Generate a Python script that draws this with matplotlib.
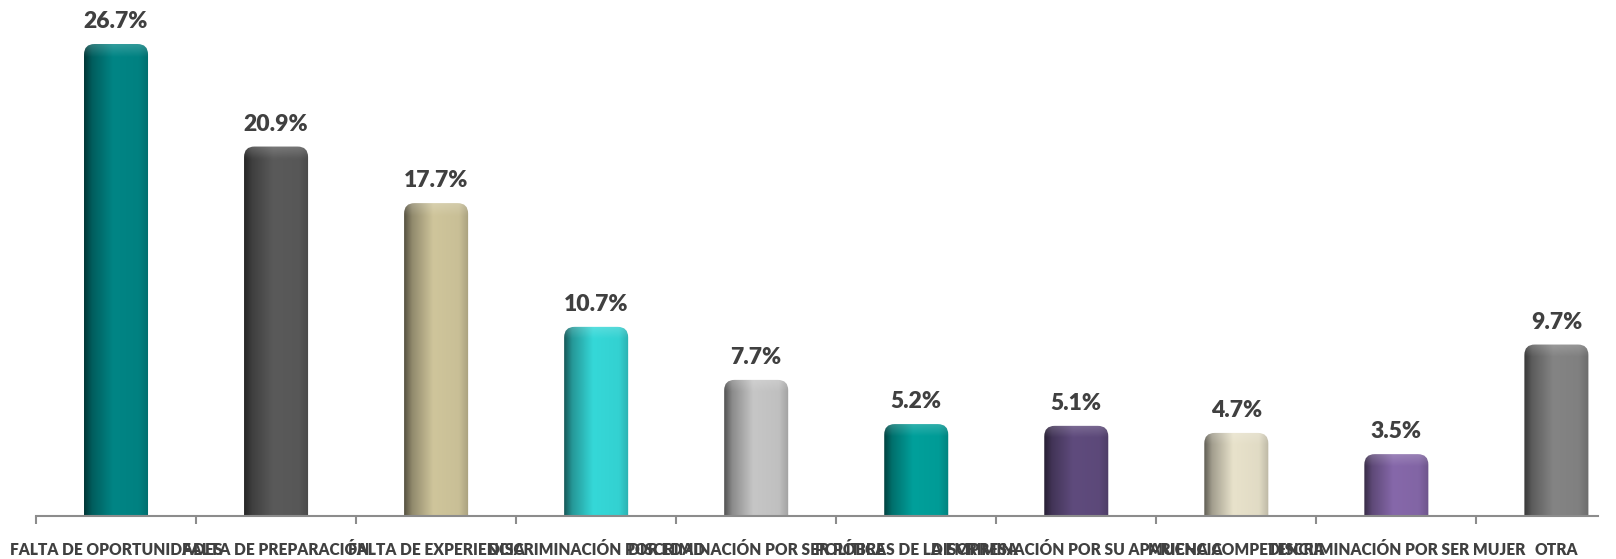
import numpy as np
import matplotlib
matplotlib.use("Agg")
import matplotlib.pyplot as plt
from matplotlib.patches import FancyBboxPatch
from matplotlib.colors import to_rgb

categories = ["FALTA DE OPORTUNIDADES", "FALTA DE PREPARACIÓN", "FALTA DE EXPERIENCIA",
              "DISCRIMINACIÓN POR EDAD", "DISCRIMINACIÓN POR SER POBRE",
              "POLÍTICAS DE LA EMPRESA", "DISCRIMINACIÓN POR SU APARIENCIA",
              "MUCHA COMPETENCIA", "DISCRIMINACIÓN POR SER MUJER", "OTRA"]
values = [26.7, 20.9, 17.7, 10.7, 7.7, 5.2, 5.1, 4.7, 3.5, 9.7]
colors = ["#008585", "#5a5a5a", "#cfc59b", "#35d8d8", "#c6c6c6",
          "#00a09b", "#5f4b7d", "#e8e2cb", "#8668aa", "#848484"]

plt.rcParams['font.family'] = ['Lato', 'DejaVu Sans']
text_color = "#404040"

fig = plt.figure(figsize=(16.16, 5.59), dpi=100)
ax = fig.add_axes([36 / 1616, 43 / 559, 1562 / 1616, 516 / 559])

x = np.arange(len(values))
bars = ax.bar(x, values, width=0.4, color="none", edgecolor="none")

# horizontal shading profile of the cylinders
u = np.linspace(0, 1, 64)
prof = np.interp(u, [0, 0.12, 0.45, 0.85, 1.0], [0.42, 0.7, 1.0, 0.97, 0.82])
px_per_unit = 516 / 29.19
aspect = 160 / px_per_unit

for rect, col in zip(bars, colors):
    bx, bw, bh = rect.get_x(), rect.get_width(), rect.get_height()
    base = np.array(to_rgb(col))
    nrow = 200
    img = np.ones((nrow, 64, 3)) * base * prof[None, :, None]
    # lighter cap at the top
    cap = 12 / (bh * px_per_unit)
    v = np.linspace(1, 0, nrow)
    capmask = np.clip((v - (1 - cap)) / cap, 0, 1)[:, None, None]
    img = img + (1 - img) * 0.18 * capmask
    img = np.clip(img, 0, 1)
    im = ax.imshow(img, extent=[bx, bx + bw, 0, bh], aspect="auto",
                   interpolation="bilinear", zorder=2)
    clip = FancyBboxPatch((bx, -1), bw, bh + 1,
                          boxstyle="round,pad=0,rounding_size=0.065",
                          mutation_aspect=aspect, transform=ax.transData,
                          facecolor="none", edgecolor="none")
    ax.add_patch(clip)
    im.set_clip_path(clip)
    ax.annotate(f"{rect.get_height():.1f}%", (bx + bw / 2, bh),
                xytext=(0, 8.5), textcoords="offset points", ha="center",
                va="bottom", fontsize=16.5, fontweight="heavy", color=text_color)

ax.set_xlim(-0.5, 9.26)
ax.set_ylim(0, 29.19)

for s in ["top", "right", "left"]:
    ax.spines[s].set_visible(False)
ax.spines["bottom"].set_color("#8c8c8c")
ax.spines["bottom"].set_linewidth(1.5)
ax.set_yticks([])

ax.set_xticks(x)
ax.set_xticklabels(categories, fontsize=11.2, fontweight="heavy", color=text_color)
ax.tick_params(axis="x", which="major", length=0, pad=19)
ax.set_xticks(np.arange(-0.5, 9.5, 1), minor=True)
ax.tick_params(axis="x", which="minor", length=6, width=1.5, color="#8c8c8c")

fig.savefig("out.png", dpi=100)
